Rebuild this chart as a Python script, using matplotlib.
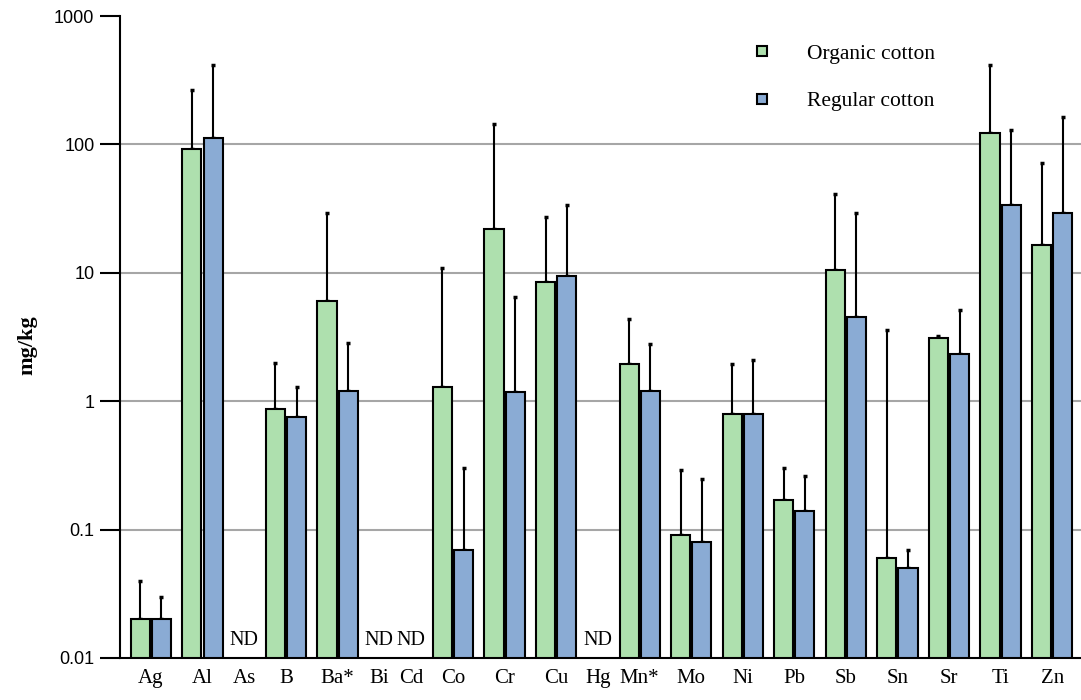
import numpy as np
import matplotlib.pyplot as plt
from matplotlib.lines import Line2D

nan = np.nan

# element, mean and mean+sd (mg/kg), ND = not detected
elements = ['Ag', 'Al', 'As', 'B', 'Ba*', 'Bi', 'Cd', 'Co', 'Cr', 'Cu', 'Hg',
            'Mn*', 'Mo', 'Ni', 'Pb', 'Sb', 'Sn', 'Sr', 'Ti', 'Zn']
organic = [0.02, 92, nan, 0.87, 6.0, nan, nan, 1.3, 22, 8.5, nan,
           1.95, 0.09, 0.8, 0.17, 10.5, 0.06, 3.1, 122, 16.5]
organic_top = [0.04, 265, nan, 2.0, 29.5, nan, nan, 11, 145, 27, nan,
               4.4, 0.29, 1.95, 0.30, 41, 3.6, 3.2, 415, 72]
regular = [0.02, 112, nan, 0.75, 1.2, nan, nan, 0.07, 1.17, 9.5, nan,
           1.2, 0.08, 0.8, 0.14, 4.5, 0.05, 2.35, 34, 29]
regular_top = [0.03, 415, nan, 1.28, 2.85, nan, nan, 0.30, 6.5, 34, nan,
               2.8, 0.25, 2.1, 0.26, 29, 0.07, 5.1, 130, 165]

organic = np.array(organic)
regular = np.array(regular)
organic_top = np.array(organic_top)
regular_top = np.array(regular_top)

green = '#aee0ae'
blue = '#8aabd4'
ymin = 0.01
serif = 'Liberation Serif'

# ND slots are narrower than the measured ones
nd = np.isnan(organic)
slot = np.where(nd, 0.62, 1.0)
x = np.cumsum(slot) - slot / 2
w = 0.37
off = 0.205

fig = plt.figure(figsize=(10.81, 7), dpi=100)
ax = fig.add_axes([0.111, 0.06, 0.889, 0.917])
ax.set_yscale('log')

m = ~nd
ax.bar(x[m] - off, organic[m] - ymin, w, bottom=ymin, color=green,
       edgecolor='black', linewidth=1.5, zorder=3)
ax.bar(x[m] + off, regular[m] - ymin, w, bottom=ymin, color=blue,
       edgecolor='black', linewidth=1.5, zorder=3)
ax.errorbar(x[m] - off, organic[m],
            yerr=[np.zeros(m.sum()), organic_top[m] - organic[m]],
            fmt='none', ecolor='black', elinewidth=1.5, capsize=1.5,
            capthick=2.5, zorder=2)
ax.errorbar(x[m] + off, regular[m],
            yerr=[np.zeros(m.sum()), regular_top[m] - regular[m]],
            fmt='none', ecolor='black', elinewidth=1.5, capsize=1.5,
            capthick=2.5, zorder=2)

for xi in x[nd]:
    ax.text(xi, 0.0126, 'ND', ha='center', va='baseline',
            family=serif, fontsize=14.5)

ax.set_ylim(ymin, 1000)
ax.set_xlim(x[0] - 0.60, x[-1] + 0.56)
ax.set_yticks([0.01, 0.1, 1, 10, 100, 1000])
ax.set_yticklabels(['0.01', '0.1', '1', '10', '100', '1000'],
                   family='Liberation Sans', fontsize=13)
ax.minorticks_off()
ax.tick_params(axis='y', length=14.4, width=1.5, direction='out', pad=4)
ax.set_xticks(x)
ax.set_xticklabels(elements, family=serif, fontsize=15)
ax.tick_params(axis='x', length=0, pad=8)

ax.yaxis.grid(True, color='#a6a6a6', linewidth=1.5, zorder=0)
ax.get_ygridlines()[-1].set_visible(False)
ax.get_ygridlines()[0].set_visible(False)
ax.set_axisbelow(True)

for s in ['top', 'right']:
    ax.spines[s].set_visible(False)
ax.spines['left'].set_linewidth(1.5)
ax.spines['bottom'].set_linewidth(1.5)

ax.set_ylabel('mg/kg', family=serif, fontweight='bold', fontsize=16)
ax.yaxis.set_label_coords(-0.086, 0.4875)

handles = [
    Line2D([], [], linestyle='none', marker='s', markersize=6.5,
           markerfacecolor=green, markeredgecolor='black', markeredgewidth=1.5),
    Line2D([], [], linestyle='none', marker='s', markersize=6.5,
           markerfacecolor=blue, markeredgecolor='black', markeredgewidth=1.5),
]
fig.legend(handles, ['Organic cotton', 'Regular cotton'], loc='upper left',
           bbox_to_anchor=(0.677, 0.965), frameon=False, handlelength=1.0,
           handletextpad=1.59, labelspacing=1.27,
           prop={'family': serif, 'size': 15.5})

fig.savefig('out.png', dpi=100)
